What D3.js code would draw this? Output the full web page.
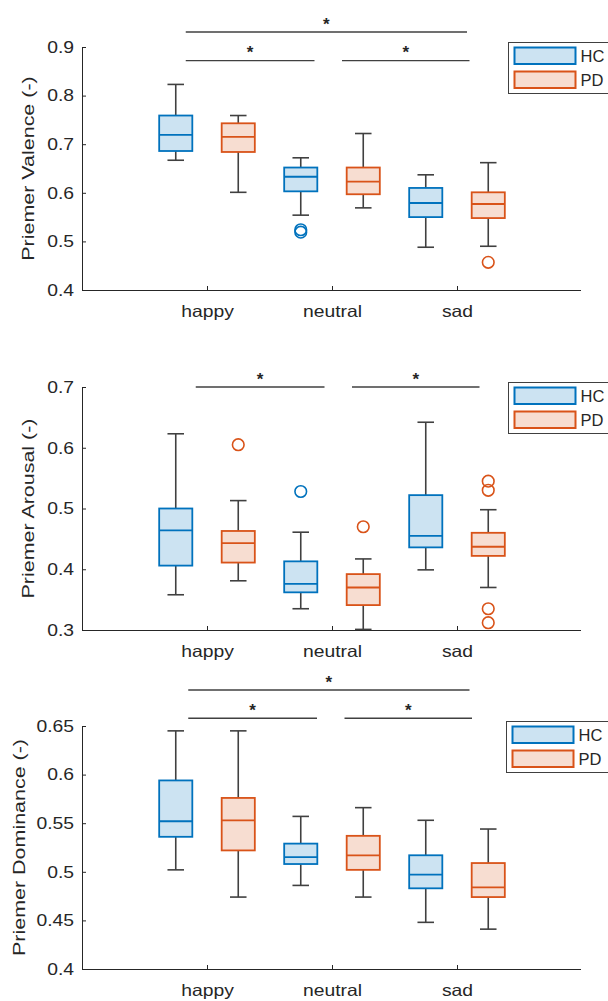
<!DOCTYPE html>
<html>
<head>
<meta charset="utf-8">
<script src="https://cdn.jsdelivr.net/npm/d3@7"></script>
<style>
  body { margin: 0; background: #fff; }
  text { font-family: "Liberation Sans", Arial, sans-serif; fill: #262626; }
</style>
</head>
<body>
<div id="chart"></div>
<script>
// Categories and groups
var categories = ["happy", "neutral", "sad"];
var groups = ["HC", "PD"];

// Box stats per category: [lower whisker, Q1, median, Q3, upper whisker]
var valenceHC = [[0.667, 0.686, 0.719, 0.759, 0.823], [0.554, 0.603, 0.633, 0.652, 0.672], [0.488, 0.550, 0.579, 0.610, 0.637]];
var valencePD = [[0.601, 0.684, 0.715, 0.743, 0.759], [0.569, 0.597, 0.623, 0.652, 0.722], [0.490, 0.548, 0.577, 0.601, 0.662]];
var valenceOutHC = [[], [0.519, 0.524], []];
var valenceOutPD = [[], [], [0.457]];
var valenceTicks = [0.4, 0.5, 0.6, 0.7, 0.8, 0.9];
// significance brackets: [from, to, level]
var valenceSig = [[0.83, 3.08, 0.931], [0.83, 1.86, 0.872], [2.08, 3.10, 0.872]];

var arousalHC = [[0.358, 0.406, 0.464, 0.500, 0.623], [0.335, 0.362, 0.376, 0.413, 0.461], [0.399, 0.436, 0.455, 0.522, 0.642]];
var arousalPD = [[0.381, 0.411, 0.443, 0.463, 0.513], [0.301, 0.341, 0.370, 0.392, 0.417], [0.370, 0.422, 0.437, 0.460, 0.498]];
var arousalOutHC = [[], [0.528], []];
var arousalOutPD = [[0.605], [0.470], [0.545, 0.530, 0.335, 0.312]];
var arousalTicks = [0.3, 0.4, 0.5, 0.6, 0.7];
var arousalSig = [[0.91, 1.94, 0.7], [2.16, 3.18, 0.7]];

var dominanceHC = [[0.502, 0.536, 0.552, 0.594, 0.645], [0.486, 0.508, 0.515, 0.529, 0.557], [0.448, 0.483, 0.497, 0.517, 0.553]];
var dominancePD = [[0.474, 0.522, 0.553, 0.576, 0.645], [0.474, 0.502, 0.517, 0.537, 0.566], [0.441, 0.474, 0.484, 0.509, 0.544]];
var dominanceOutHC = [[], [], []];
var dominanceOutPD = [[], [], []];
var dominanceTicks = [0.4, 0.45, 0.5, 0.55, 0.6, 0.65];
var dominanceSig = [[0.85, 3.10, 0.687], [0.85, 1.88, 0.658], [2.10, 3.12, 0.658]];

var colors = { HC: "#0072BD", PD: "#D95319" };
var fills = { HC: "#cce3f2", PD: "#f7ddd1" };
var whiskerColor = "#404040";

var width = 608, height = 1001;
var plotLeft = 82, plotRight = 582, plotHeight = 243;

var svg = d3.select("#chart").append("svg")
  .attr("width", width)
  .attr("height", height);

var x = d3.scaleLinear().domain([0, 4]).range([plotLeft, plotRight]);
var boxW = x(0.265) - x(0);
var capW = boxW / 2;

// stretch text along its reading direction
function stretch(sel, k) {
  sel.each(function() {
    var w = this.getComputedTextLength();
    d3.select(this).attr("textLength", w * k).attr("lengthAdjust", "spacingAndGlyphs");
  });
}

var panels = [
  { top: 47, label: "Priemer Valence (-)", labelX: 34, ticks: valenceTicks, hc: valenceHC, pd: valencePD,
    outHC: valenceOutHC, outPD: valenceOutPD, sig: valenceSig, legendX: 508 },
  { top: 387, label: "Priemer Arousal (-)", labelX: 34, ticks: arousalTicks, hc: arousalHC, pd: arousalPD,
    outHC: arousalOutHC, outPD: arousalOutPD, sig: arousalSig, legendX: 508 },
  { top: 726, label: "Priemer Dominance (-)", labelX: 25, ticks: dominanceTicks, hc: dominanceHC, pd: dominancePD,
    outHC: dominanceOutHC, outPD: dominanceOutPD, sig: dominanceSig, legendX: 506 }
];

panels.forEach(function(p) {
  var y = d3.scaleLinear()
    .domain([p.ticks[0], p.ticks[p.ticks.length - 1]])
    .range([p.top + plotHeight, p.top]);
  var g = svg.append("g");

  // x axis
  var xAxis = g.append("g")
    .attr("transform", `translate(0, ${p.top + plotHeight})`)
    .call(d3.axisBottom(x).tickValues([1, 2, 3])
      .tickFormat(function(d) { return categories[d - 1]; })
      .tickSizeInner(-4).tickSizeOuter(0).tickPadding(15.5));
  xAxis.select(".domain").attr("stroke", "#262626").attr("d", `M${plotLeft},0.5H${plotRight - 1}`);
  xAxis.selectAll(".tick line").attr("stroke", "#262626");
  xAxis.selectAll("text").style("font-size", "16.5px").attr("fill", "#262626").call(stretch, 1.17);

  // y axis
  var yAxis = g.append("g")
    .attr("transform", `translate(${plotLeft}, 0)`)
    .call(d3.axisLeft(y).tickValues(p.ticks).tickFormat(d3.format("~g"))
      .tickSizeInner(-4).tickSizeOuter(0).tickPadding(8));
  yAxis.select(".domain").attr("stroke", "#262626");
  yAxis.selectAll(".tick line").attr("stroke", "#262626");
  yAxis.selectAll("text").style("font-size", "16.5px").attr("fill", "#262626").call(stretch, 1.17);

  // y axis label
  g.append("text")
    .attr("transform", `translate(${p.labelX}, ${p.top + plotHeight / 2}) rotate(-90)`)
    .attr("text-anchor", "middle")
    .style("font-size", "16.5px")
    .text(p.label)
    .call(stretch, 1.3);

  // boxes
  groups.forEach(function(grp, gi) {
    var stats = gi === 0 ? p.hc : p.pd;
    var outs = gi === 0 ? p.outHC : p.outPD;
    var off = gi === 0 ? -0.25 : 0.25;
    stats.forEach(function(s, i) {
      var cx = x(i + 1 + off);
      var bg = g.append("g");
      // whiskers
      bg.append("line").attr("x1", cx).attr("x2", cx).attr("y1", y(s[3])).attr("y2", y(s[4]))
        .attr("stroke", whiskerColor).attr("stroke-width", 1.6);
      bg.append("line").attr("x1", cx).attr("x2", cx).attr("y1", y(s[1])).attr("y2", y(s[0]))
        .attr("stroke", whiskerColor).attr("stroke-width", 1.6);
      [s[0], s[4]].forEach(function(v) {
        bg.append("line").attr("x1", cx - capW / 2).attr("x2", cx + capW / 2)
          .attr("y1", y(v)).attr("y2", y(v))
          .attr("stroke", whiskerColor).attr("stroke-width", 1.6);
      });
      // box
      bg.append("rect")
        .attr("x", cx - boxW / 2).attr("y", y(s[3]))
        .attr("width", boxW).attr("height", y(s[1]) - y(s[3]))
        .attr("fill", fills[grp]).attr("stroke", colors[grp]).attr("stroke-width", 1.8);
      bg.append("line").attr("x1", cx - boxW / 2).attr("x2", cx + boxW / 2)
        .attr("y1", y(s[2])).attr("y2", y(s[2]))
        .attr("stroke", colors[grp]).attr("stroke-width", 1.8);
      // outliers
      bg.selectAll("circle").data(outs[i]).enter().append("circle")
        .attr("cx", cx).attr("cy", function(d) { return y(d); }).attr("r", 5.8)
        .attr("fill", "none").attr("stroke", colors[grp]).attr("stroke-width", 1.6);
    });
  });

  // significance brackets
  p.sig.forEach(function(s) {
    g.append("line")
      .attr("x1", x(s[0])).attr("x2", x(s[1]))
      .attr("y1", y(s[2])).attr("y2", y(s[2]))
      .attr("stroke", "#404040").attr("stroke-width", 1.4);
    g.append("text")
      .attr("x", x((s[0] + s[1]) / 2))
      .attr("y", y(s[2]) - 11.7 + 9.5)
      .attr("text-anchor", "middle")
      .style("font-size", "17px")
      .style("font-weight", "bold")
      .attr("fill", "#333")
      .text("*");
  });

  // legend
  var lg = g.append("g").attr("transform", `translate(${p.legendX}, ${p.top - 5})`);
  lg.append("rect").attr("x", 0.5).attr("y", 0.5).attr("width", 110).attr("height", 51)
    .attr("fill", "#fff").attr("stroke", "#404040").attr("stroke-width", 1);
  groups.forEach(function(grp, gi) {
    lg.append("rect")
      .attr("x", 6.5).attr("y", 5.5 + gi * 24)
      .attr("width", 61).attr("height", 16.5)
      .attr("fill", fills[grp]).attr("stroke", colors[grp]).attr("stroke-width", 2);
    lg.append("text")
      .attr("x", 72.5).attr("y", 19.5 + gi * 24)
      .style("font-size", "16.5px")
      .text(grp);
  });
});
</script>
</body>
</html>
